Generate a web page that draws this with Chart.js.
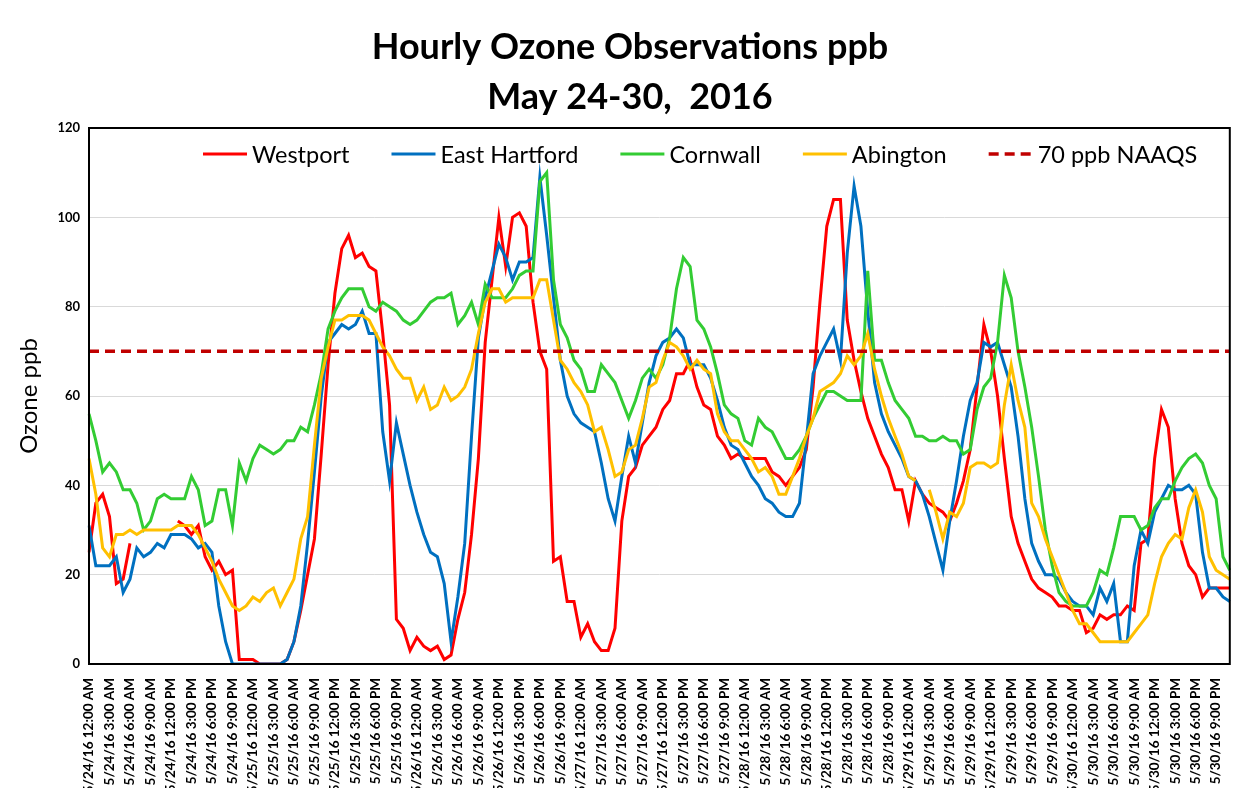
<!DOCTYPE html>
<html>
<head>
<meta charset="utf-8">
<script src="https://cdn.jsdelivr.net/npm/chart.js@4"></script>
<style>
  html, body { margin: 0; padding: 0; background: #fff; }
  #wrap { width: 1252px; height: 788px; }
</style>
</head>
<body>
<div id="wrap"><canvas id="ozoneChart" width="1252" height="788"></canvas></div>
<script>
// Categories: one point per hour, 5/24 - 5/30
const days = ['5/24/16', '5/25/16', '5/26/16', '5/27/16', '5/28/16', '5/29/16', '5/30/16'];
const hours = ['12:00 AM', '1:00 AM', '2:00 AM', '3:00 AM', '4:00 AM', '5:00 AM',
               '6:00 AM', '7:00 AM', '8:00 AM', '9:00 AM', '10:00 AM', '11:00 AM',
               '12:00 PM', '1:00 PM', '2:00 PM', '3:00 PM', '4:00 PM', '5:00 PM',
               '6:00 PM', '7:00 PM', '8:00 PM', '9:00 PM', '10:00 PM', '11:00 PM'];

// Hourly values (ppb), one row per day
const westport = [
  25, 36, 38, 33, 18, 19, 27, null, null, null, null, null, null, 32, 31, 29, 31, 24, 21, 23, 20, 21, 1, 1,
  1, 0, 0, 0, 0, 1, 5, 12, 20, 28, 47, 67, 83, 93, 96, 91, 92, 89, 88, 74, 58, 10, 8, 3,
  6, 4, 3, 4, 1, 2, 10, 16, 29, 46, 72, 86, 100, 89, 100, 101, 98, 81, 70, 66, 23, 24, 14, 14,
  6, 9, 5, 3, 3, 8, 32, 42, 44, 49, 51, 53, 57, 59, 65, 65, 68, 62, 58, 57, 51, 49, 46, 47,
  46, 46, 46, 46, 43, 42, 40, 42, 44, 48, 62, 81, 98, 104, 104, 77, 68, 61, 55, 51, 47, 44, 39, 39,
  32, 41, 38, 36, 35, 34, 32, 36, 41, 48, 62, 76, 70, 60, 46, 33, 27, 23, 19, 17, 16, 15, 13, 13,
  12, 12, 7, 8, 11, 10, 11, 11, 13, 12, 27, 28, 46, 57, 53, 37, 27, 22, 20, 15, 17, 17, 17, 17
];
const eastHartford = [
  31, 22, 22, 22, 24, 16, 19, 26, 24, 25, 27, 26, 29, 29, 29, 28, 26, 27, 25, 13, 5, 0, 0, 0,
  0, 0, 0, 0, 0, 1, 5, 13, 27, 43, 60, 72, 74, 76, 75, 76, 79, 74, 74, 52, 41, 54, 47, 40,
  34, 29, 25, 24, 18, 5, 15, 27, 51, 73, 82, 88, 94, 91, 86, 90, 90, 91, 109, 96, 82, 68, 60, 56,
  54, 53, 52, 45, 37, 32, 42, 51, 45, 54, 63, 69, 72, 73, 75, 73, 67, 67, 67, 64, 59, 53, 49, 48,
  45, 42, 40, 37, 36, 34, 33, 33, 36, 50, 65, 69, 72, 75, 68, 92, 107, 98, 79, 63, 56, 52, 49, 46,
  42, 41, 38, 33, 27, 21, 32, 41, 51, 59, 63, 72, 71, 72, 67, 62, 51, 37, 27, 23, 20, 20, 19, 16,
  14, 13, 13, 11, 17, 14, 18, 5, 5, 22, 30, 27, 34, 37, 40, 39, 39, 40, 38, 25, 17, 17, 15, 14
];
const cornwall = [
  56, 50, 43, 45, 43, 39, 39, 36, 30, 32, 37, 38, 37, 37, 37, 42, 39, 31, 32, 39, 39, 31, 45, 41,
  46, 49, 48, 47, 48, 50, 50, 53, 52, 58, 65, 75, 79, 82, 84, 84, 84, 80, 79, 81, 80, 79, 77, 76,
  77, 79, 81, 82, 82, 83, 76, 78, 81, 76, 85, 82, 82, 82, 84, 87, 88, 88, 108, 110, 86, 76, 73, 68,
  66, 61, 61, 67, 65, 63, 59, 55, 59, 64, 66, 64, 67, 73, 84, 91, 89, 77, 75, 71, 65, 58, 56, 55,
  50, 49, 55, 53, 52, 49, 46, 46, 48, 51, 55, 58, 61, 61, 60, 59, 59, 59, 88, 68, 68, 63, 59, 57,
  55, 51, 51, 50, 50, 51, 50, 50, 47, 48, 57, 62, 64, 72, 87, 82, 70, 62, 53, 42, 30, 22, 16, 14,
  13, 13, 13, 16, 21, 20, 26, 33, 33, 33, 30, 31, 35, 37, 37, 41, 44, 46, 47, 45, 40, 37, 24, 21
];
const abington = [
  46, 38, 26, 24, 29, 29, 30, 29, 30, 30, 30, 30, 30, 31, 31, 31, 29, 26, 23, 19, 16, 13, 12, 13,
  15, 14, 16, 17, 13, 16, 19, 28, 33, 49, 64, 71, 77, 77, 78, 78, 78, 77, 74, 71, 69, 66, 64, 64,
  59, 62, 57, 58, 62, 59, 60, 62, 66, 74, 81, 84, 84, 81, 82, 82, 82, 82, 86, 86, 77, 68, 66, 63,
  61, 58, 52, 53, 48, 42, 43, 48, 49, 55, 62, 63, 68, 72, 71, 69, 66, 68, 66, 65, 56, 52, 50, 50,
  48, 46, 43, 44, 42, 38, 38, 42, 46, 51, 55, 61, 62, 63, 65, 69, 67, 69, 74, 66, 60, 55, 51, 47,
  42, 41, null, 39, 34, 28, 34, 33, 36, 44, 45, 45, 44, 45, 58, 67, 59, 53, 36, 33, 28, 24, 20, 16,
  12, 9, 9, 7, 5, 5, 5, 5, 5, 7, 9, 11, 18, 24, 27, 29, 28, 35, 39, 34, 24, 21, 20, 19
];
const naaqsLevel = 70;
const yTicks = [0, 20, 40, 60, 80, 100, 120];

const labels = [];
days.forEach(d => hours.forEach(h => labels.push(d + ' ' + h)));

const FONT = 'Lato, "Open Sans", sans-serif';

// Title above the plot
const titlePlugin = {
  id: 'titleLines',
  afterDraw(chart) {
    const ctx = chart.ctx;
    ctx.save();
    ctx.fillStyle = '#000';
    ctx.textAlign = 'center';
    ctx.textBaseline = 'middle';
    ctx.font = 'bold 36px ' + FONT;
    ctx.fillText('Hourly Ozone Observations ppb', 630, 47);
    ctx.fillText('May 24-30,  2016', 630, 97);
    ctx.restore();
  }
};

// Black frame round the plot area
const framePlugin = {
  id: 'frame',
  afterDatasetsDraw(chart) {
    const a = chart.chartArea;
    const ctx = chart.ctx;
    ctx.save();
    ctx.strokeStyle = '#000';
    ctx.lineWidth = 2;
    ctx.strokeRect(a.left, a.top, a.right - a.left, a.bottom - a.top);
    ctx.restore();
  }
};

// Legend drawn inside the plot, along the top
const legendPlugin = {
  id: 'insideLegend',
  afterDraw(chart) {
    const ctx = chart.ctx;
    const y = 154;
    let x = 203;
    ctx.save();
    ctx.font = '23.5px ' + FONT;
    ctx.textBaseline = 'middle';
    ctx.fillStyle = '#000';
    chart.data.datasets.forEach(ds => {
      ctx.beginPath();
      ctx.strokeStyle = ds.borderColor;
      ctx.lineWidth = ds.borderWidth;
      ctx.setLineDash(ds.borderDash || []);
      ctx.moveTo(x, y);
      ctx.lineTo(x + 44, y);
      ctx.stroke();
      ctx.setLineDash([]);
      x += 49;
      ctx.fillText(ds.label, x, y + 1);
      x += ctx.measureText(ds.label).width + 42;
    });
    ctx.restore();
  }
};

new Chart(document.getElementById('ozoneChart'), {
  type: 'line',
  data: {
    labels: labels,
    datasets: [{
      label: 'Westport',
      data: westport,
      borderColor: '#ff0000',
      order: 5
    }, {
      label: 'East Hartford',
      data: eastHartford,
      borderColor: '#0070c0',
      order: 4
    }, {
      label: 'Cornwall',
      data: cornwall,
      borderColor: '#33cc33',
      order: 3
    }, {
      label: 'Abington',
      data: abington,
      borderColor: '#ffc000',
      order: 2
    }, {
      label: '70 ppb NAAQS',
      data: labels.map(() => naaqsLevel),
      borderColor: '#c00000',
      borderDash: [10, 6],
      borderWidth: 3.5,
      order: 1
    }].map(ds => Object.assign({ borderWidth: 3, pointRadius: 0, tension: 0, fill: false }, ds))
  },
  options: {
    responsive: false,
    animation: false,
    layout: { padding: { top: 128, right: 20, left: 0, bottom: 0 } },
    plugins: {
      legend: { display: false },
      title: { display: false },
      tooltip: { enabled: false }
    },
    scales: {
      x: {
        grid: { display: false },
        border: { display: false },
        ticks: {
          autoSkip: false,
          maxRotation: 90,
          minRotation: 90,
          padding: 6,
          color: '#000',
          font: { family: FONT, size: 13.5, weight: 'bold' },
          callback: (v, i) => (i % 3 === 0 ? labels[i] : '')
        },
        afterFit: scale => { scale.height = 124; }
      },
      y: {
        min: 0,
        max: 120,
        afterBuildTicks: scale => { scale.ticks = yTicks.map(v => ({ value: v })); },
        grid: { color: '#d9d9d9', lineWidth: 1, drawTicks: false },
        border: { display: false },
        ticks: {
          padding: 9,
          color: '#000',
          font: { family: FONT, size: 13, weight: 'bold' }
        },
        title: {
          display: true,
          text: 'Ozone ppb',
          color: '#000',
          padding: { top: 15, bottom: 6 },
          font: { family: FONT, size: 24 }
        },
        afterFit: scale => { scale.width = 89; }
      }
    }
  },
  plugins: [titlePlugin, framePlugin, legendPlugin]
});
</script>
</body>
</html>
